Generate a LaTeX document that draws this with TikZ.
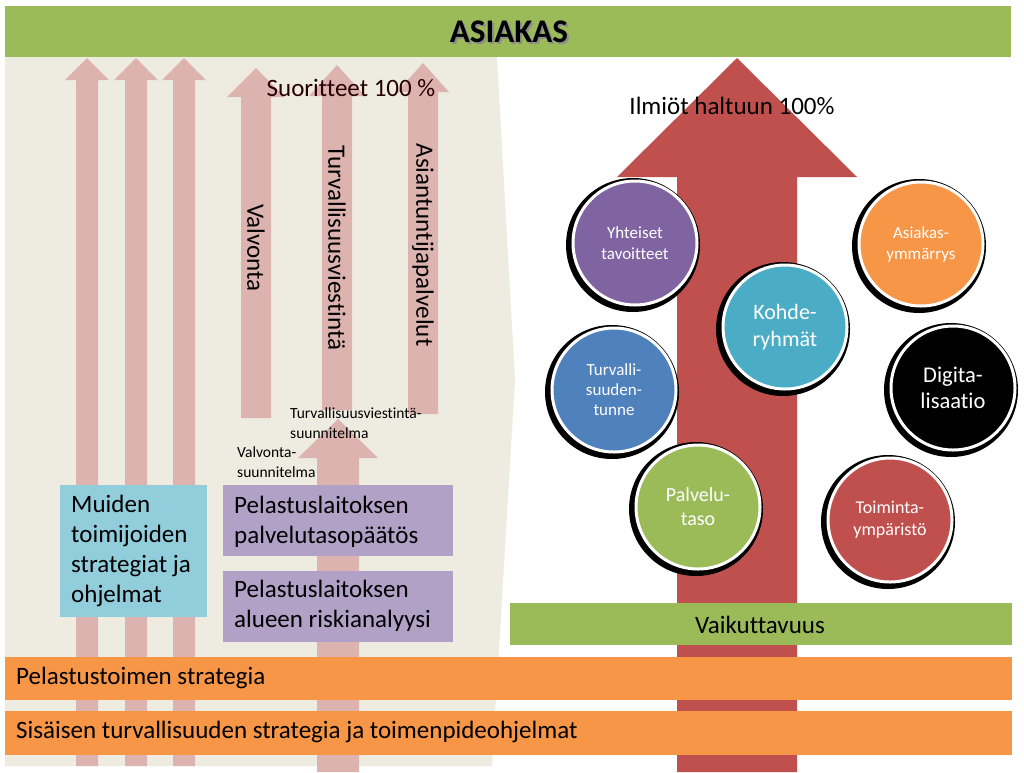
\documentclass[tikz,border=0pt]{standalone}
\usepackage{fontspec}
\setmainfont{Carlito}[Ligatures=NoCommon]

\definecolor{asgreen}{RGB}{155,187,89}
\definecolor{beige}{RGB}{238,236,225}
\definecolor{arrowpink}{RGB}{221,179,175}
\definecolor{redarrow}{RGB}{192,80,77}
\definecolor{orangebar}{RGB}{247,150,70}
\definecolor{muidenblue}{RGB}{146,205,220}
\definecolor{purplebox}{RGB}{178,161,199}
\definecolor{bPurple}{RGB}{128,100,162}
\definecolor{bTeal}{RGB}{75,172,198}
\definecolor{bBlue}{RGB}{79,129,189}

% up arrow: centre x, tip y, head base y, bottom y, head half width, shaft half width
\newcommand{\pinkarrow}[7]{%
  \fill[#7] (#1-#6,#4) -- (#1-#6,#3) -- (#1-#5,#3) -- (#1,#2)
    -- (#1+#5,#3) -- (#1+#6,#3) -- (#1+#6,#4) -- cycle;}

\begin{document}
\begin{tikzpicture}
      [%%%%%%%%%%%%%%%%%%%%%%%%%%%%%%
          x=1pt, y=-1pt,
          lbl/.style={inner sep=0pt, font=\fontsize{25}{30}\selectfont},
          boxtxt/.style={anchor=west, align=left, inner sep=0pt, font=\fontsize{25}{30}\selectfont},
          small/.style={anchor=west, align=left, inner sep=0pt, font=\fontsize{15.5}{20}\selectfont},
          bubble/.style={circle, draw=white, line width=3pt, text=white, align=center,
                         inner sep=0pt, minimum size=124pt}
      ]%%%%%%%%%%%%%%%%%%%%%%%%%%%%%%

  \useasboundingbox (0,0) rectangle (1024,772);
  \fill[white] (0,0) rectangle (1024,772);

  % background of the left half
  \fill[beige] (5,57) -- (497,57) -- (515,380) -- (492,766) -- (5,766) -- cycle;

  % left arrows
  \foreach \x in {87,136,184}
      \pinkarrow{\x}{58}{80}{766}{22}{11}{arrowpink};

  \pinkarrow{256}{68}{97}{418}{29}{15}{arrowpink}
  \pinkarrow{337}{65}{96}{410}{28}{15}{arrowpink}
  \pinkarrow{423}{63}{92}{414}{26}{15}{arrowpink}
  \pinkarrow{338}{419}{458}{772}{40}{21}{arrowpink}

  % big arrow
  \pinkarrow{737}{58}{177}{772}{120}{60}{redarrow}

  % top bar
  \fill[asgreen] (5,6) rectangle (1011,57);
  \node[font=\fontsize{33}{36}\selectfont\bfseries, text=black!45] at (511,34) {ASIAKAS};
  \node (asiakas) [font=\fontsize{33}{36}\selectfont\bfseries] at (509,32) {ASIAKAS};

  \node (suor) [lbl, text=black!85!red] at (351,88) {Suoritteet 100 \%};
  \node (ilmiot) [lbl] at (732,106) {Ilmiöt haltuun 100\%};

  \node (valv) [lbl, rotate=-90] at (256,248) {Valvonta};
  \node (tviest) [lbl, rotate=-90] at (337,248) {Turvallisuusviestintä};
  \node (asiant) [lbl, rotate=-90] at (423,245) {Asiantuntijapalvelut};

  \node (tsuun) [small] at (290,423) {Turvallisuusviestintä-\\suunnitelma};
  \node (vsuun) [small] at (237,462) {Valvonta-\\suunnitelma};

  % boxes
  \fill[muidenblue] (60,485) rectangle (207,617);
  \node (muiden) [boxtxt] at (71,551) {Muiden\\toimijoiden\\strategiat ja\\ohjelmat};

  \fill[purplebox] (223,485) rectangle (453,556);
  \node (ppaat) [boxtxt] at (234,522) {Pelastuslaitoksen\\palvelutasopäätös};
  \fill[purplebox] (223,571) rectangle (453,642);
  \node (priski) [boxtxt] at (234,606) {Pelastuslaitoksen\\alueen riskianalyysi};

  % bars
  \fill[asgreen] (510,603) rectangle (1012,645);
  \node (vaik) [lbl] at (760,625) {Vaikuttavuus};

  \fill[orangebar] (5,657) rectangle (1012,700);
  \node (pstrat) [lbl, anchor=west] at (16,678) {Pelastustoimen strategia};
  \fill[orangebar] (5,711) rectangle (1012,755);
  \node (sstrat) [lbl, anchor=west] at (16,732) {Sisäisen turvallisuuden strategia ja toimenpideohjelmat};

  % circles
  \foreach \n/\x/\y/\c/\fs/\ls/\t in {
      yht/635/243/bPurple/17/21/{Yhteiset\\tavoitteet},
      asi/921/244/orangebar/17/21/{Asiakas-\\ymmärrys},
      koh/785/327/bTeal/22/27/{Kohde-\\ryhmät},
      tur/614/390/bBlue/17/20/{Turvalli-\\suuden-\\tunne},
      dig/953/388/black/22.5/26/{Digita-\\lisaatio},
      pal/698/507/asgreen/20/24/{Palvelu-\\taso},
      toi/890/520/redarrow/18/22/{Toiminta-\\ympäristö}}{
      \fill[black] (\x-2,\y+2) circle (67pt);
      \node (\n) [bubble, fill=\c, font=\fontsize{\fs}{\ls}\selectfont] at (\x,\y) {\t};
  }

\end{tikzpicture}
\end{document}
